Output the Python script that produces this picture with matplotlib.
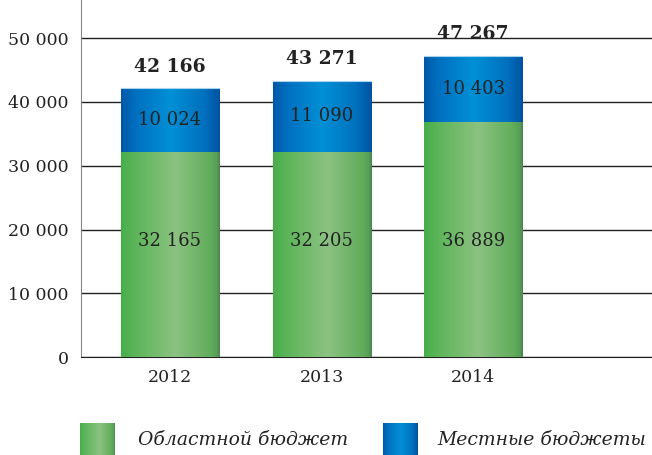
import numpy as np
import matplotlib
matplotlib.use("Agg")
import matplotlib.pyplot as plt
from matplotlib.colors import LinearSegmentedColormap

years = ["2012", "2013", "2014"]
regional = [32165, 32205, 36889]
local = [10024, 11090, 10403]
totals = [42166, 43271, 47267]
yticks = [0, 10000, 20000, 30000, 40000, 50000]
legend_labels = ["Областной бюджет", "Местные бюджеты"]

def fmt(v):
    return f"{v:,}".replace(",", " ")

plt.rcParams['font.family'] = ['DejaVu Serif']
txt = "#222222"

green_cmap = LinearSegmentedColormap.from_list(
    "g", [(0.0, "#47ad49"), (0.12, "#5ab457"), (0.55, "#8cc282"), (0.9, "#62ad5c"),
          (0.97, "#56a056"), (1.0, "#4f7f50")])
blue_cmap = LinearSegmentedColormap.from_list(
    "b", [(0.0, "#0058a8"), (0.15, "#0070c0"), (0.5, "#0090d6"), (0.85, "#0070bd"),
          (1.0, "#0052a0")])
grad = np.linspace(0, 1, 256).reshape(1, -1)

fig = plt.figure(figsize=(6.52, 4.55), dpi=100)
ax = fig.add_axes([81/652, 98/455, 1 - 81/652, 357/455])

x = np.arange(len(years))
width = 0.647
b1 = ax.bar(x, regional, width, color="#6cb865", zorder=2)
b2 = ax.bar(x, local, width, bottom=regional, color="#0080c8", zorder=2)

for bars, cmap in ((b1, green_cmap), (b2, blue_cmap)):
    for p in bars:
        x0, y0 = p.get_x(), p.get_y()
        w, h = p.get_width(), p.get_height()
        im = ax.imshow(grad, cmap=cmap, aspect="auto", extent=(x0, x0 + w, y0, y0 + h),
                       zorder=3, interpolation="bilinear")
        im.set_clip_path(p)

for p in b2:
    ax.plot([p.get_x(), p.get_x() + p.get_width()], [p.get_y() + p.get_height()] * 2,
            color="#a8d4f0", lw=0.8, zorder=4)

for i in range(len(years)):
    ax.text(x[i], 18200, fmt(regional[i]), ha="center", va="center",
            fontsize=13, color=txt, zorder=5)
    ax.text(x[i], regional[i] + local[i] / 2, fmt(local[i]), ha="center", va="center",
            fontsize=13, color=txt, zorder=5)
    ax.annotate(fmt(totals[i]), (x[i], regional[i] + local[i]), xytext=(0, 9),
                textcoords="offset points", ha="center", va="bottom",
                fontsize=13.5, fontweight="bold", color=txt, zorder=5)

ax.set_xlim(-0.587, 3.18)
ax.set_ylim(0, 56000)
ax.set_yticks(yticks)
ax.set_yticklabels([fmt(v) for v in yticks])
ax.set_xticks(x)
ax.set_xticklabels(years)
ax.tick_params(axis="both", length=0, labelsize=12.5, colors=txt)
ax.tick_params(axis="y", pad=9)
ax.tick_params(axis="x", pad=9)
ax.yaxis.grid(True, color="#222222", lw=1)
ax.set_axisbelow(True)
for s in ("top", "right"):
    ax.spines[s].set_visible(False)
ax.spines["left"].set_color("#888888")
ax.spines["bottom"].set_color("#222222")

# legend
for (lx, cmap, label, tx) in ((80, green_cmap, legend_labels[0], 138),
                              (383, blue_cmap, legend_labels[1], 437)):
    lax = fig.add_axes([lx/652, 0, 35/652, 32/455])
    lax.imshow(grad, cmap=cmap, aspect="auto", interpolation="bilinear")
    lax.axis("off")
    fig.text(tx/652, 15/455, label, ha="left", va="center", fontsize=13.5,
             fontstyle="italic", color=txt)

fig.savefig("out.png", dpi=100)
